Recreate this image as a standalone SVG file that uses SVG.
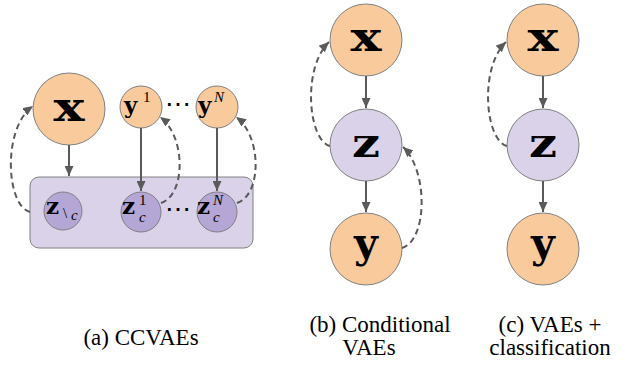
<svg xmlns="http://www.w3.org/2000/svg" width="625" height="365" viewBox="0 0 625 365">
<defs>
<marker id="ah" viewBox="0 0 10 9" refX="10" refY="4.5" markerWidth="10" markerHeight="9" markerUnits="userSpaceOnUse" orient="auto">
<path d="M0,0 L10,4.5 L0,9 z" fill="#5a5a5a"/>
</marker>
<style>
.obs{fill:#f9cb9c;stroke:#808080;stroke-width:1}
.lat{fill:#d9d2e9;stroke:#808080;stroke-width:1}
.latd{fill:#b4a7d6;stroke:#808080;stroke-width:1}
.plate{fill:#d9d2e9;stroke:#808080;stroke-width:1}
.sol{stroke:#5a5a5a;stroke-width:2;fill:none;marker-end:url(#ah)}
.dsh{stroke:#5a5a5a;stroke-width:2;fill:none;stroke-dasharray:6,4;marker-end:url(#ah)}
.big{font-weight:bold;font-size:41px;fill:#000;text-anchor:middle}
.sm{font-weight:bold;font-size:23px;fill:#000}
.sup{font-size:15px;fill:#000}
.supi{font-style:italic;font-size:15px;fill:#000}
.dots{font-size:26px;fill:#000;text-anchor:middle}
.cap{font-size:23px;fill:#000;text-anchor:middle}
</style>
</defs>
<rect x="0" y="0" width="625" height="365" fill="#fff"/>

<!-- (a) CCVAEs -->
<g id="plate-a"><rect class="plate" x="30" y="177" width="223" height="71" rx="9"/></g>
<g id="a-x"><circle class="obs" cx="69" cy="109" r="36"/><text class="big" font-family="DejaVu Serif, serif" x="69" y="121" textLength="31" lengthAdjust="spacingAndGlyphs">x</text></g>
<g id="a-y1"><circle class="obs" cx="141" cy="107" r="21"/><text class="sm" font-family="DejaVu Serif, serif" x="124" y="113">y</text><text class="sup" font-family="Liberation Serif, serif" x="143" y="102">1</text></g>
<g id="a-yN"><circle class="obs" cx="217" cy="107" r="21"/><text class="sm" font-family="DejaVu Serif, serif" x="198" y="113">y</text><text class="supi" font-family="Liberation Serif, serif" x="214" y="102">N</text></g>
<g id="a-zc"><circle class="latd" cx="63" cy="211" r="19"/><text class="sm" font-family="DejaVu Serif, serif" x="46" y="214">z</text><text class="sup" font-family="Liberation Serif, serif" x="63" y="218">\</text><text class="supi" font-family="Liberation Serif, serif" x="71" y="220">c</text></g>
<g id="a-z1"><circle class="latd" cx="141" cy="212" r="20"/><text class="sm" font-family="DejaVu Serif, serif" x="122" y="214">z</text><text class="sup" font-family="Liberation Serif, serif" x="139" y="205">1</text><text class="supi" font-family="Liberation Serif, serif" x="139" y="222">c</text></g>
<g id="a-zN"><circle class="latd" cx="217" cy="212" r="20"/><text class="sm" font-family="DejaVu Serif, serif" x="197" y="214">z</text><text class="supi" font-family="Liberation Serif, serif" x="213" y="205">N</text><text class="supi" font-family="Liberation Serif, serif" x="213" y="222">c</text></g>
<g id="a-dots"><text class="dots" font-family="DejaVu Serif, serif" x="178" y="113">⋯</text><text class="dots" font-family="DejaVu Serif, serif" x="178" y="218">⋯</text></g>

<!-- (b) Conditional VAEs -->
<g id="b-x"><circle class="obs" cx="366" cy="40" r="36"/><text class="big" font-family="DejaVu Serif, serif" x="366" y="51" textLength="31" lengthAdjust="spacingAndGlyphs">x</text></g>
<g id="b-z"><circle class="lat" cx="366" cy="145" r="36"/><text class="big" font-family="DejaVu Serif, serif" x="366" y="157" textLength="28" lengthAdjust="spacingAndGlyphs">z</text></g>
<g id="b-y"><circle class="obs" cx="366" cy="249" r="36"/><text class="big" font-family="DejaVu Serif, serif" x="366" y="257">y</text></g>

<!-- (c) VAEs + classification -->
<g id="c-x"><circle class="obs" cx="543" cy="40" r="36"/><text class="big" font-family="DejaVu Serif, serif" x="543" y="51" textLength="31" lengthAdjust="spacingAndGlyphs">x</text></g>
<g id="c-z"><circle class="lat" cx="543" cy="145" r="36"/><text class="big" font-family="DejaVu Serif, serif" x="543" y="157" textLength="28" lengthAdjust="spacingAndGlyphs">z</text></g>
<g id="c-y"><circle class="obs" cx="543" cy="249" r="36"/><text class="big" font-family="DejaVu Serif, serif" x="543" y="257">y</text></g>

<g id="connectors">
<line class="sol" x1="69" y1="145" x2="69" y2="176"/>
<line class="sol" x1="141" y1="128" x2="141" y2="191"/>
<line class="sol" x1="217" y1="128" x2="217" y2="191"/>
<path class="dsh" d="M30,212 C6,206 2,128 33,106"/>
<path class="dsh" d="M161,203 C186,195 186,136 160,117"/>
<path class="dsh" d="M237,203 C262,195 262,136 236,117"/>
<line class="sol" x1="366" y1="76" x2="366" y2="108"/>
<line class="sol" x1="366" y1="181" x2="366" y2="212"/>
<path class="dsh" d="M330,146 C308,140 302,68 329,42"/>
<path class="dsh" d="M402,248 C428,240 428,170 403,147"/>
<line class="sol" x1="543" y1="76" x2="543" y2="108"/>
<line class="sol" x1="543" y1="181" x2="543" y2="212"/>
<path class="dsh" d="M507,146 C485,140 479,68 506,42"/>
</g>

<g id="captions" font-family="Liberation Serif, Times New Roman, serif">
<text class="cap" x="141" y="345">(a) CCVAEs</text>
<text class="cap" x="380" y="332">(b) Conditional</text>
<text class="cap" x="369" y="355">VAEs</text>
<text class="cap" x="550" y="332">(c) VAEs +</text>
<text class="cap" x="550" y="355">classification</text>
</g>
</svg>
